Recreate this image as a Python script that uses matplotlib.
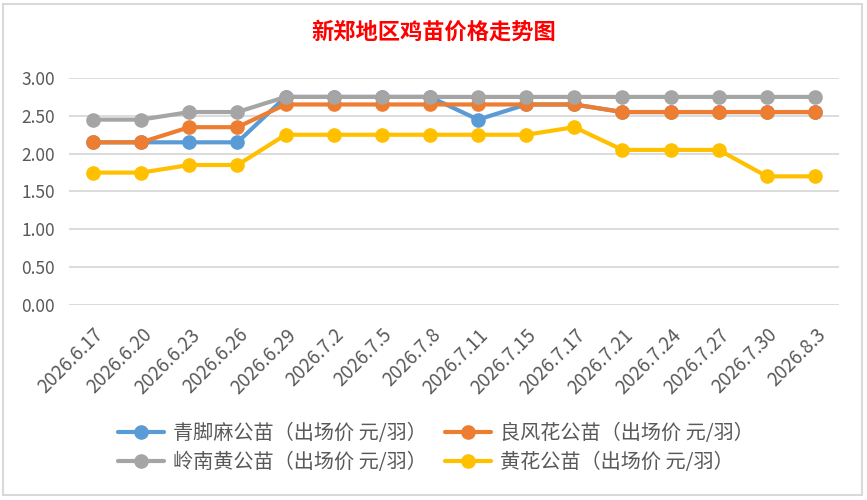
import matplotlib
matplotlib.use("Agg")
import matplotlib.pyplot as plt
from matplotlib.patches import Rectangle

# ---------- DATA ----------
dates = ["2026.6.17", "2026.6.20", "2026.6.23", "2026.6.26", "2026.6.29",
         "2026.7.2", "2026.7.5", "2026.7.8", "2026.7.11", "2026.7.15",
         "2026.7.17", "2026.7.21", "2026.7.24", "2026.7.27", "2026.7.30",
         "2026.8.3"]

qingjiaoma = [2.15, 2.15, 2.15, 2.15, 2.75, 2.75, 2.75, 2.75, 2.45, 2.65,
              2.65, 2.55, 2.55, 2.55, 2.55, 2.55]
liangfenghua = [2.15, 2.15, 2.35, 2.35, 2.65, 2.65, 2.65, 2.65, 2.65, 2.65,
                2.65, 2.55, 2.55, 2.55, 2.55, 2.55]
lingnanhuang = [2.45, 2.45, 2.55, 2.55, 2.75, 2.75, 2.75, 2.75, 2.75, 2.75,
                2.75, 2.75, 2.75, 2.75, 2.75, 2.75]
huanghua = [1.75, 1.75, 1.85, 1.85, 2.25, 2.25, 2.25, 2.25, 2.25, 2.25,
            2.35, 2.05, 2.05, 2.05, 1.70, 1.70]

series_names = ["青脚麻公苗（出场价 元/羽）", "良风花公苗（出场价 元/羽）",
                "岭南黄公苗（出场价 元/羽）", "黄花公苗（出场价 元/羽）"]
y_ticks = [0.0, 0.5, 1.0, 1.5, 2.0, 2.5, 3.0]
title = "新郑地区鸡苗价格走势图"
# --------------------------

plt.rcParams['font.family'] = ['Noto Sans CJK SC', 'DejaVu Sans']

TEXT_GREY = "#595959"
GRID_GREY = "#D9D9D9"
colors = ["#5B9BD5", "#ED7D31", "#A5A5A5", "#FFC000"]

fig = plt.figure(figsize=(8.67, 5.0), dpi=100)
ax = fig.add_axes([69 / 867, 195 / 500, 770 / 867, 227 / 500])

x = list(range(len(dates)))
handles = []
for vals, name, c in zip([qingjiaoma, liangfenghua, lingnanhuang, huanghua],
                         series_names, colors):
    h, = ax.plot(x, vals, color=c, lw=3, marker='o', markersize=9.5,
                 solid_capstyle='round', label=name)
    handles.append(h)

ax.set_xlim(-0.5, len(dates) - 0.5)
ax.set_ylim(0, 3.0)
ax.set_yticks(y_ticks)
ax.set_yticklabels([f"{v:.2f}" for v in y_ticks])
ax.set_xticks(x)
ax.set_xticklabels(dates, rotation=45, ha='right', va='top',
                   rotation_mode='anchor')
ax.tick_params(axis='y', length=0, labelsize=12.5, colors=TEXT_GREY, pad=10)
ax.tick_params(axis='x', length=0, labelsize=13.5, colors=TEXT_GREY, pad=14)

ax.grid(axis='y', color=GRID_GREY, lw=1.3)
ax.set_axisbelow(True)
for s in ax.spines.values():
    s.set_visible(False)

fig.text(0.5, 1 - 32 / 500, title, color="#FF0000", fontsize=16,
         fontweight='bold', ha='center', va='center')

# legend fills column by column, so order as blue, gray | orange, yellow
order = [0, 2, 1, 3]
leg = fig.legend(handles=[handles[i] for i in order], loc='center', ncol=2,
                 bbox_to_anchor=(436 / 867, 1 - 448 / 500),
                 frameon=False, fontsize=14.5, labelcolor=TEXT_GREY,
                 handlelength=2.3, columnspacing=0.9, handletextpad=0.45,
                 labelspacing=0.42)

fig.patches.append(Rectangle((3 / 867, 5 / 500), 859 / 867, 491 / 500,
                             transform=fig.transFigure, fill=False,
                             edgecolor=GRID_GREY, lw=1.5))

fig.savefig("out.png", dpi=100)
